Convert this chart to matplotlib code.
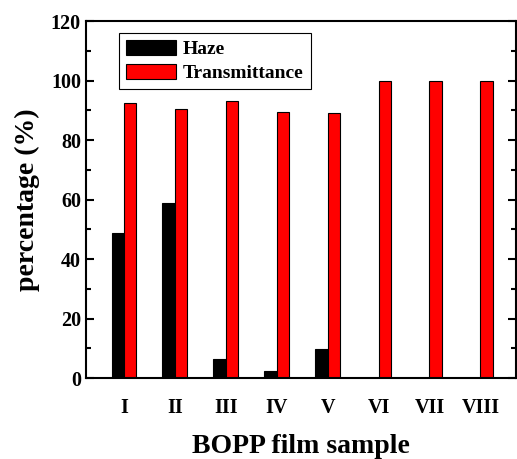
import matplotlib.pyplot as plt
from matplotlib.ticker import MultipleLocator
import numpy as np

samples = ['I', 'II', 'III', 'IV', 'V', 'VI', 'VII', 'VIII']
haze = [48.7, 58.9, 6.4, 2.5, 9.7, 0, 0, 0]
transmittance = [92.5, 90.4, 93.2, 89.6, 89.2, 99.8, 99.8, 99.8]

plt.rcParams['font.family'] = ['Liberation Serif', 'DejaVu Serif']
plt.rcParams['font.weight'] = 'bold'

fig = plt.figure(figsize=(5.17, 4.59), dpi=100)
ax = fig.add_axes([0.166, 0.176, 0.832, 0.778])

x = np.arange(1, len(samples) + 1)
w = 0.245
ax.bar(x - w / 2, haze, w, color='black', edgecolor='black', linewidth=0.8, label='Haze')
ax.bar(x + w / 2, transmittance, w, color='#ff0000', edgecolor='black', linewidth=0.8,
       label='Transmittance')

ax.set_xlim(0.25, 8.7)
ax.set_ylim(0, 120)
ax.set_xticks(x)
ax.set_xticklabels(samples)
ax.yaxis.set_major_locator(MultipleLocator(20))
ax.yaxis.set_minor_locator(MultipleLocator(10))
ax.tick_params(axis='y', which='both', direction='in', right=True, labelsize=14.5, width=1.5)
ax.tick_params(axis='y', which='major', length=6)
ax.tick_params(axis='y', which='minor', length=3.5)
ax.tick_params(axis='x', length=0, labelsize=14.5, pad=14)
for s in ax.spines.values():
    s.set_linewidth(1.5)

ax.set_xlabel('BOPP film sample', fontsize=20, fontweight='bold', labelpad=12)
ax.set_ylabel('percentage (%)', fontsize=20, fontweight='bold', labelpad=8)

leg = ax.legend(loc='upper left', bbox_to_anchor=(0.077, 0.966), borderaxespad=0,
                fontsize=14, fancybox=False, framealpha=1, edgecolor='black',
                handlelength=2.6, handleheight=0.8, handletextpad=0.35,
                borderpad=0.35, labelspacing=0.3)
leg.get_frame().set_linewidth(0.8)

fig.savefig('out.png', dpi=100)
